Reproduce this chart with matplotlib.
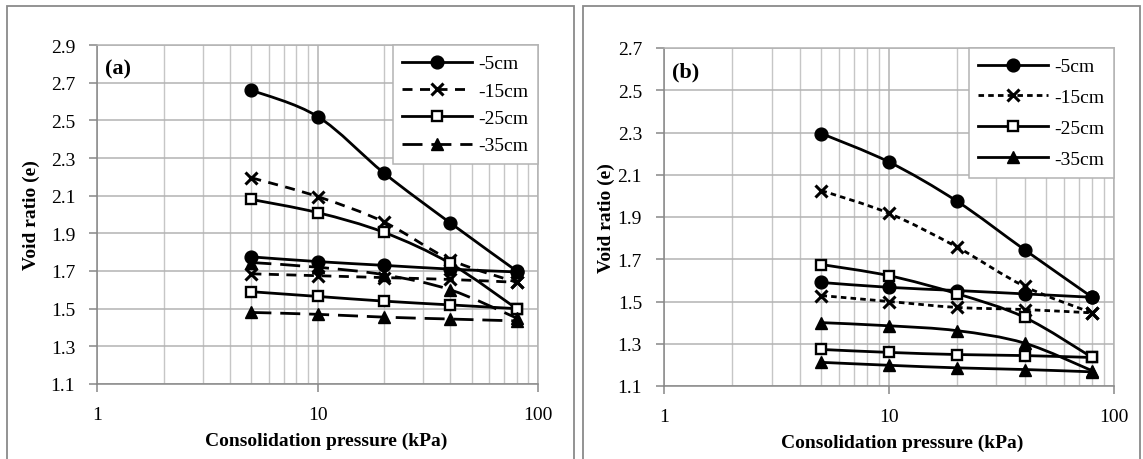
import numpy as np
import matplotlib
matplotlib.use("Agg")
import matplotlib.pyplot as plt
from matplotlib.path import Path
from matplotlib.patches import PathPatch, Rectangle
from matplotlib.lines import Line2D

plt.rcParams["font.family"] = ["Liberation Serif", "DejaVu Serif"]

# consolidation pressure steps (kPa)
pressure = [5, 10, 20, 40, 80]
depths = ["-5cm", "-15cm", "-25cm", "-35cm"]

# (a) void ratio, two curves for every depth
a_5cm = [[2.66, 2.52, 2.22, 1.955, 1.70], [1.775, 1.75, 1.73, 1.71, 1.695]]
a_15cm = [[2.195, 2.095, 1.96, 1.76, 1.64], [1.685, 1.675, 1.665, 1.655, 1.64]]
a_25cm = [[2.08, 2.01, 1.905, 1.74, 1.50], [1.59, 1.565, 1.54, 1.52, 1.50]]
a_35cm = [[1.745, 1.72, 1.68, 1.60, 1.45], [1.48, 1.47, 1.455, 1.445, 1.435]]

# (b) void ratio, two curves for every depth
b_5cm = [[2.295, 2.16, 1.975, 1.745, 1.52], [1.59, 1.567, 1.552, 1.536, 1.52]]
b_15cm = [[2.025, 1.917, 1.758, 1.572, 1.446], [1.528, 1.50, 1.472, 1.462, 1.446]]
b_25cm = [[1.675, 1.622, 1.537, 1.425, 1.235], [1.273, 1.259, 1.249, 1.244, 1.235]]
b_35cm = [[1.40, 1.385, 1.362, 1.303, 1.172], [1.212, 1.198, 1.186, 1.178, 1.167]]

GRID = "#b3b3b3"
MINOR = "#c6c6c6"
AXIS = "#878787"
LW = 2.0

marker_style = {
    "-5cm": dict(marker="o", ms=9.2, mfc="black", mec="black", mew=1),
    "-15cm": dict(marker="x", ms=8.5, mfc="black", mec="black", mew=2.2),
    "-25cm": dict(marker="s", ms=7.5, mfc="white", mec="black", mew=1.7),
    "-35cm": dict(marker="^", ms=9.2, mfc="black", mec="black", mew=1),
}


def smooth_path(x, y):
    # Catmull-Rom style bezier through the points, built in log10(x) space
    lx = np.log10(np.asarray(x, dtype=float))
    y = np.asarray(y, dtype=float)
    n = len(lx)
    verts = [(lx[0], y[0])]
    codes = [Path.MOVETO]
    for i in range(n - 1):
        p0 = max(i - 1, 0)
        p3 = min(i + 2, n - 1)
        c1 = (lx[i] + (lx[i + 1] - lx[p0]) / 6, y[i] + (y[i + 1] - y[p0]) / 6)
        c2 = (lx[i + 1] - (lx[p3] - lx[i]) / 6, y[i + 1] - (y[p3] - y[i]) / 6)
        verts += [c1, c2, (lx[i + 1], y[i + 1])]
        codes += [Path.CURVE4] * 3
    verts = [(10 ** vx, vy) for vx, vy in verts]
    return Path(verts, codes)


def draw_panel(ax, series, styles, ymax, tag, legend_gap):
    ax.set_xscale("log")
    ax.set_xlim(1, 100)
    ax.set_ylim(1.1, ymax)
    ax.set_yticks(np.arange(1.1, ymax + 0.01, 0.2))
    ax.yaxis.set_major_formatter(plt.FuncFormatter(lambda v, p: f"{v:.1f}"))
    ax.set_xticks([1, 10, 100])
    ax.set_xticklabels(["1", "10", "100"])
    ax.xaxis.set_minor_formatter(plt.NullFormatter())

    ax.grid(True, which="major", color=GRID, lw=1.1)
    ax.grid(True, which="minor", axis="x", color=MINOR, lw=1.0)
    ax.set_axisbelow(True)
    for side in ax.spines.values():
        side.set_color(AXIS)
        side.set_linewidth(1.1)
    ax.spines["top"].set_color(GRID)
    ax.spines["right"].set_color(GRID)
    ax.tick_params(which="major", length=6, width=1.1, color=AXIS,
                   labelsize=14)
    ax.tick_params(which="minor", length=0)
    ax.tick_params(axis="x", pad=10)
    ax.tick_params(axis="y", pad=10)

    handles = []
    for name, curves in zip(depths, series):
        ls = styles[name]
        for ys in curves:
            ax.add_patch(PathPatch(smooth_path(pressure, ys), fill=False,
                                   ec="black", lw=LW, ls=ls, zorder=3,
                                   capstyle="butt"))
            ax.plot(pressure, ys, ls="none", zorder=4, **marker_style[name])
        handles.append(Line2D([], [], color="black", lw=LW, ls=ls,
                              **marker_style[name]))

    leg = ax.legend(handles, depths, loc="upper right", bbox_to_anchor=(1, 1),
                    borderaxespad=0, fontsize=14, numpoints=1,
                    handlelength=3.6, handletextpad=0.3,
                    labelspacing=legend_gap, borderpad=0.5,
                    fancybox=False, framealpha=1, edgecolor=GRID)
    leg.get_frame().set_linewidth(1.1)

    ax.text(0.018, 0.93, tag, transform=ax.transAxes, fontsize=16,
            fontweight="bold", va="center", ha="left")
    ax.set_ylabel("Void ratio (e)", fontsize=14, fontweight="bold")
    ax.set_xlabel("Consolidation pressure (kPa)", fontsize=14,
                  fontweight="bold")


fig = plt.figure(figsize=(11.43, 4.6), dpi=100)

# panel frames
for x0, x1 in [(7, 574), (583, 1140)]:
    fig.add_artist(Rectangle((x0 / 1143, -0.1), (x1 - x0) / 1143, 1.1 - 7 / 460,
                             transform=fig.transFigure, fill=False,
                             ec="#8a8a8a", lw=1.3))

ax_a = fig.add_axes([97.4 / 1143, 1 - 385 / 460, 440.6 / 1143, 339 / 460])
ax_b = fig.add_axes([664.3 / 1143, 1 - 387 / 460, 449.7 / 1143, 338 / 460])

draw_panel(ax_a, [a_5cm, a_15cm, a_25cm, a_35cm],
           {"-5cm": "-", "-15cm": (0, (3.6, 2.7)), "-25cm": "-", "-35cm": (0, (7.2, 3.2))},
           2.9, "(a)", 0.5)
draw_panel(ax_b, [b_5cm, b_15cm, b_25cm, b_35cm],
           {"-5cm": "-", "-15cm": (0, (2.0, 1.5)), "-25cm": "-", "-35cm": "-"},
           2.7, "(b)", 0.68)

ax_a.yaxis.set_label_coords(-0.13, 0.5)
ax_b.yaxis.set_label_coords(-0.11, 0.5)
ax_a.xaxis.set_label_coords(0.52, -0.14)
ax_b.xaxis.set_label_coords(0.53, -0.14)

fig.savefig("out.png", dpi=100)
